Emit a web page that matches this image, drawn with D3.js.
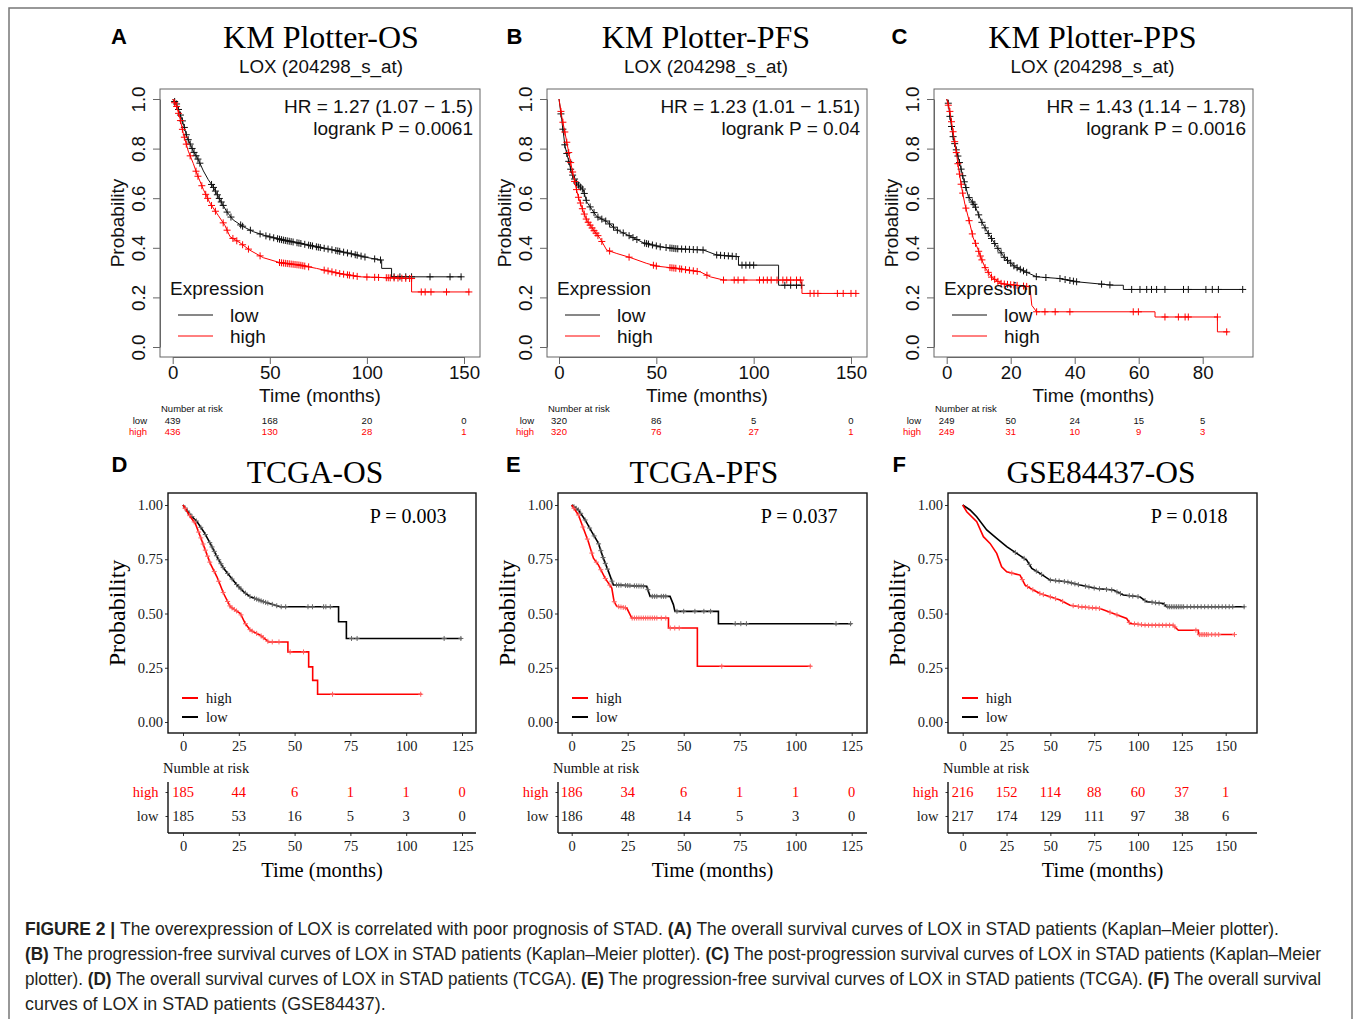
<!DOCTYPE html>
<html>
<head>
<meta charset="utf-8">
<script src="https://cdn.jsdelivr.net/npm/d3@7"></script>
<style>
  body { margin: 0; background: #fff; }
</style>
</head>
<body>
<div id="chart"></div>
<script>
// ---- data: [time (months), survival probability] ----

// A: KM Plotter OS
var osKmLow = [[0,1],[2,0.98],[3.8,0.94],[5.5,0.90],[7.2,0.85],[10.6,0.79],[13.2,0.755],[15.8,0.71],[18.3,0.675],[20.9,0.645],[24.4,0.593],[27.8,0.546],[31.2,0.512],[36.4,0.485],[41.5,0.465],[48.4,0.447],[57,0.431],[65.6,0.418],[74,0.404],[82.7,0.391],[91.3,0.377],[100,0.361],[107.6,0.35],[107.6,0.317],[112.7,0.317],[112.7,0.283],[148.8,0.283]];
var osKmHigh = [[0,1],[2,0.97],[3.8,0.92],[5.5,0.86],[8,0.79],[10.6,0.74],[12.4,0.70],[15.8,0.635],[19.2,0.58],[23.5,0.53],[26.9,0.49],[29.5,0.445],[34.7,0.42],[39.8,0.39],[46.7,0.36],[55.3,0.34],[65.6,0.33],[74,0.317],[86,0.296],[96.4,0.283],[123,0.276],[123,0.222],[153,0.222]];
var osKmLowCens = [1,2,3,4,5,6,7,8,9,10,11,12,13,14,20,21,22,23,24,25,26,28,30,35,36,40,45,48,50,52,54,55,56,57,58,59,60,61,62,64,65,66,68,70,71,72,74,75,76,78,80,82,84,85,86,88,90,92,94,95,97,99,104,107,114,117,120,123,132.5,142.8,148.5];
var osKmHighCens = [1,2,3,4,5,6,7,9,12,13,15,17,18,20,22,26,28,31,33,36,39,45,55,56,57,58,59,60,61,62,63,64,65,66,67,68,70,78,80,82,84,86,88,90,91,93,95,100,104,106,110,111,112,114,116,118,120,122,123,128,130,133,141,152.5];
var osKmRiskTimes = [0, 50, 100, 150];
var osKmRiskLow = [439, 168, 20, 0];
var osKmRiskHigh = [436, 130, 28, 1];

// B: KM Plotter PFS
var pfsKmLow = [[0,1],[1.4,0.916],[3.1,0.809],[4.8,0.755],[6.5,0.701],[9.1,0.66],[12.5,0.633],[14.2,0.586],[15.9,0.566],[19.4,0.526],[24.5,0.506],[29.7,0.472],[36.5,0.447],[43.4,0.42],[51.9,0.404],[60.5,0.396],[74.2,0.391],[81,0.371],[92.2,0.364],[92.2,0.33],[112.8,0.33],[112.8,0.249],[124.8,0.249]];
var pfsKmHigh = [[0,1],[1.4,0.93],[3.1,0.863],[5.7,0.755],[8.2,0.66],[9.9,0.606],[12.5,0.546],[14.2,0.512],[17.7,0.472],[21.1,0.438],[24.5,0.391],[29.7,0.377],[36.5,0.361],[45.1,0.337],[50.2,0.326],[60.5,0.317],[72.5,0.303],[77.7,0.283],[84.5,0.27],[124.8,0.27],[124.8,0.216],[153,0.216]];
var pfsKmLowCens = [1,2,3,4,5,6,7,8,9,10,11,12,13,14,16,18,20,22,24,26,28,30,33,36,38,40,44,45,46,48,50,52,55,57,58,59,60,61,63,65,67,69,71,74,81,83,85,87,89,91,94,96,98,100,116,119,122,124.5];
var pfsKmHighCens = [1,2,3,4,5,6,7,8,9,10,11,12,13,14,15,16,17,18,19,20,22,26,36,48.5,50,57,58,59,60,62,63,65,67,69,71,76,84.5,90,92,95,103,105,107,109,112,115,117,119,122,124,129,131,133,143,146,150,152.5];
var pfsKmRiskTimes = [0, 50, 100, 150];
var pfsKmRiskLow = [320, 86, 5, 0];
var pfsKmRiskHigh = [320, 76, 27, 1];

// C: KM Plotter PPS
var ppsKmLow = [[0,1],[0.5,0.983],[1,0.93],[2.1,0.84],[3.6,0.765],[5.2,0.68],[6.8,0.606],[8.8,0.57],[10.9,0.505],[13,0.458],[15.6,0.405],[18.2,0.358],[21.3,0.324],[24.5,0.304],[28.1,0.283],[35.4,0.276],[40.6,0.263],[52,0.249],[55.2,0.249],[55.2,0.232],[92.7,0.232]];
var ppsKmHigh = [[0,1],[1,0.95],[1.6,0.90],[2.6,0.82],[3.6,0.73],[4.7,0.64],[5.7,0.575],[6.8,0.52],[8.3,0.44],[9.9,0.39],[10.4,0.37],[12,0.32],[14.1,0.28],[17.2,0.255],[26,0.243],[26.6,0.168],[28.1,0.142],[65.1,0.142],[65.1,0.121],[84.6,0.121],[84.6,0.061],[88,0.061]];
var ppsKmLowCens = [0.5,1,1.5,2,2.5,3,3.5,4,4.5,5,5.5,6,7,8,8.5,9,10,11,12,13,14,15,16,17,18,19,20,21,22,23,24,25,28,31,35.4,37,38.5,39.6,40.6,48.4,51,57.8,60.4,62.5,64,65.6,68.2,74,75.5,81,83,84.9,92.5];
var ppsKmHighCens = [0.5,1,1.5,2,2.5,3,3.5,4,4.5,5,6,7,8,9,10,10.5,11,12,13,14,15,16,17,18,19,20,21,22,24,25,28.1,30.7,33.9,38.5,58.3,59.9,68.2,72.4,74.5,75.5,84.6,87.5];
var ppsKmRiskTimes = [0, 20, 40, 60, 80];
var ppsKmRiskLow = [249, 50, 24, 15, 5];
var ppsKmRiskHigh = [249, 31, 10, 9, 3];

// D: TCGA OS
var osTcgaHigh = [[0,1],[3.3,0.946],[5.5,0.915],[7.8,0.854],[10,0.792],[12.2,0.731],[15.2,0.669],[18.2,0.592],[21.2,0.531],[25.7,0.5],[27.9,0.454],[30.2,0.423],[34.6,0.4],[38.4,0.369],[47,0.369],[47,0.323],[56.3,0.323],[56.3,0.254],[58.1,0.254],[58.1,0.192],[60.3,0.192],[60.3,0.128],[107,0.128]];
var osTcgaLow = [[0,1],[3.3,0.954],[6.3,0.923],[9.3,0.877],[12.2,0.823],[15.2,0.762],[18.2,0.708],[21.2,0.669],[24.2,0.631],[27.2,0.6],[30.2,0.577],[36.1,0.554],[43.6,0.531],[69.7,0.531],[69.7,0.462],[73.2,0.462],[73.2,0.385],[125,0.385]];
var osTcgaHighCens = [1,3,5,7,8,9,10,11,12,14,16,18,20,21,22,23,24,26,28,30,31,33,35,36,38,40,43,48,54,67,106.5];
var osTcgaLowCens = [1,2,3,4,6,8,10,12,13,14,15,16,17,18,20,22,24,25,26,28,30,32,33,34,35,36,37,38,40,42,44,46,56,58,63,64,66,75.5,78,117,124.5];
var osTcgaRiskTimes = [0, 25, 50, 75, 100, 125];
var osTcgaRiskHigh = [185, 44, 6, 1, 1, 0];
var osTcgaRiskLow = [185, 53, 16, 5, 3, 0];

// E: TCGA PFS
var pfsTcgaHigh = [[0,1],[3,0.954],[5.2,0.893],[7.4,0.832],[9.7,0.755],[11.9,0.724],[14.9,0.663],[17.9,0.617],[18.9,0.556],[20.1,0.533],[24.6,0.525],[26.8,0.479],[43.2,0.479],[43.2,0.433],[56.1,0.433],[56.1,0.257],[107,0.257]];
var pfsTcgaLow = [[0,1],[3,0.977],[6,0.931],[8.9,0.877],[11.9,0.824],[14.1,0.755],[16.4,0.694],[18.6,0.632],[33.5,0.625],[35,0.579],[43.9,0.579],[45.4,0.541],[46.1,0.51],[65.5,0.51],[65.5,0.453],[125,0.453]];
var pfsTcgaHighCens = [1,3,5,7,9,11,13,15,17,19,21,22,23,24,27,28,29,30,31,32,33,34,35,36,37,38,40,42,44,46,48,67,106.5];
var pfsTcgaLowCens = [1,2,3,4,6,8,10,12,13,14,15,16,18,20,21,22,24,25,26,28,29,30,31,32,34,36,37,38,40,41,42,47,50,55,59,62,73,75.5,78,118,124.5];
var pfsTcgaRiskTimes = [0, 25, 50, 75, 100, 125];
var pfsTcgaRiskHigh = [186, 34, 6, 1, 1, 0];
var pfsTcgaRiskLow = [186, 48, 14, 5, 3, 0];

// F: GSE84437 OS
var osGseHigh = [[0,1],[2.3,0.969],[8,0.923],[11.8,0.854],[15.6,0.823],[19.4,0.777],[22.2,0.715],[25.1,0.692],[32.7,0.677],[35.6,0.631],[40.3,0.608],[44.1,0.592],[49.8,0.577],[55.5,0.562],[61.2,0.538],[66.9,0.531],[78.3,0.523],[85.9,0.5],[93.5,0.477],[95.4,0.454],[105,0.446],[120,0.446],[123,0.423],[134.4,0.423],[134.4,0.403],[155.3,0.403]];
var osGseLow = [[0,1],[4.2,0.977],[8,0.946],[13.7,0.885],[19.4,0.846],[25.1,0.808],[30.8,0.777],[36.5,0.746],[39.4,0.708],[44.1,0.685],[49.8,0.654],[59.3,0.646],[66.9,0.631],[76.4,0.615],[85.9,0.608],[91.6,0.585],[101,0.577],[105,0.554],[114.4,0.546],[116.3,0.531],[161,0.531]];
var osGseHighCens = [28,34,37,40,44,46,50,53,57,63,66,68,70,72,74,76,78,84,88,95,98,100,102,104,106,108,110,112,114,116,118,120,121,133,135,136,137,138,139,140,142,144,146,155];
var osGseLowCens = [30,35,38,42,45,50,53,55,58,60,62,64,66,70,72,75,78,82,85,88,90,95,97,100,104,108,110,112,115,117,118,119,120,121,122,123,124,125,126,128,130,132,134,136,138,140,142,144,146,148,150,152,154,160.5];
var osGseRiskTimes = [0, 25, 50, 75, 100, 125, 150];
var osGseRiskHigh = [216, 152, 114, 88, 60, 37, 1];
var osGseRiskLow = [217, 174, 129, 111, 97, 38, 6];

// ---- drawing ----
var SANS = '"Liberation Sans", Arial, Helvetica, sans-serif';
var SERIF = '"Liberation Serif", "Times New Roman", Times, serif';
var RED = '#ff0000';

var svg = d3.select('#chart').append('svg')
    .attr('width', 1355)
    .attr('height', 1019);

svg.append('rect')
    .attr('x', 9).attr('y', 8)
    .attr('width', 1343).attr('height', 1040)
    .attr('fill', 'none').attr('stroke', '#777').attr('stroke-width', 1.5);

// survival value on the drawn curve at time t (to sit the censor marks on the line)
function survAt(curve, t) {
  for (var i = 0; i < curve.length - 1; i++) {
    var a = curve[i], b = curve[i + 1];
    if (b[0] > a[0] && t >= a[0] && t <= b[0]) {
      return a[1] + (b[1] - a[1]) * (t - a[0]) / (b[0] - a[0]);
    }
  }
  return curve[curve.length - 1][1];
}

function drawCurve(g, x, y, curve, cens, color, width, arm, censColor) {
  var line = d3.line().x(d => x(d[0])).y(d => y(d[1]));
  g.append('path')
      .attr('d', line(curve))
      .attr('fill', 'none')
      .attr('stroke', color)
      .attr('stroke-width', width);
  g.append('g').selectAll('path')
      .data(cens)
      .enter().append('path')
      .attr('transform', t => 'translate(' + x(t) + ',' + y(survAt(curve, t)) + ')')
      .attr('d', 'M' + (-arm) + ',0H' + arm + 'M0,' + (-arm) + 'V' + arm)
      .attr('fill', 'none')
      .attr('stroke', censColor)
      .attr('stroke-width', 1);
}

var topPanels = [
  { letter: 'A', lx: 111, title: 'KM Plotter-OS', tx: 321,
    hr: 'HR = 1.27 (1.07 \u2212 1.5)', p: 'logrank P = 0.0061',
    low: osKmLow, high: osKmHigh, lowCens: osKmLowCens, highCens: osKmHighCens,
    riskT: osKmRiskTimes, riskLow: osKmRiskLow, riskHigh: osKmRiskHigh,
    tMax: 150, xTicks: [0, 50, 100, 150], bx0: 160, bx1: 480, px0: 172.7, px1: 464 },
  { letter: 'B', lx: 506.5, title: 'KM Plotter-PFS', tx: 706,
    hr: 'HR = 1.23 (1.01 \u2212 1.51)', p: 'logrank P = 0.04',
    low: pfsKmLow, high: pfsKmHigh, lowCens: pfsKmLowCens, highCens: pfsKmHighCens,
    riskT: pfsKmRiskTimes, riskLow: pfsKmRiskLow, riskHigh: pfsKmRiskHigh,
    tMax: 150, xTicks: [0, 50, 100, 150], bx0: 547, bx1: 867, px0: 559, px1: 851 },
  { letter: 'C', lx: 891.5, title: 'KM Plotter-PPS', tx: 1092.5,
    hr: 'HR = 1.43 (1.14 \u2212 1.78)', p: 'logrank P = 0.0016',
    low: ppsKmLow, high: ppsKmHigh, lowCens: ppsKmLowCens, highCens: ppsKmHighCens,
    riskT: ppsKmRiskTimes, riskLow: ppsKmRiskLow, riskHigh: ppsKmRiskHigh,
    tMax: 80, xTicks: [0, 20, 40, 60, 80], bx0: 934, bx1: 1253, px0: 946.7, px1: 1202.7 }
];

function drawTop(p) {
  var g = svg.append('g').attr('font-family', SANS).attr('fill', '#111');
  var x = d3.scaleLinear().domain([0, p.tMax]).range([p.px0, p.px1]);
  var y = d3.scaleLinear().domain([0, 1]).range([347, 99]);
  var cx = (p.bx0 + p.bx1) / 2;

  g.append('text').attr('x', p.lx).attr('y', 44)
      .attr('font-size', 22).attr('font-weight', 'bold').attr('fill', '#000').text(p.letter);
  g.append('text').attr('x', p.tx).attr('y', 48).attr('text-anchor', 'middle')
      .attr('font-family', SERIF).attr('font-size', 32).attr('fill', '#000').text(p.title);
  g.append('text').attr('x', p.tx).attr('y', 73).attr('text-anchor', 'middle')
      .attr('font-size', 18.8).text('LOX (204298_s_at)');

  var xAxis = g.append('g')
      .attr('transform', 'translate(0,357)')
      .call(d3.axisBottom(x).tickValues(p.xTicks).tickSize(7).tickSizeOuter(0).tickPadding(1.5));
  var yAxis = g.append('g')
      .attr('transform', 'translate(' + p.bx0 + ',0)')
      .call(d3.axisLeft(y).tickValues([0, 0.2, 0.4, 0.6, 0.8, 1]).tickFormat(d3.format('.1f'))
        .tickSize(7).tickSizeOuter(0));
  [xAxis, yAxis].forEach(function (a) {
    a.attr('font-size', 18.7).attr('font-family', SANS);
    a.select('.domain').attr('stroke', '#666');
    a.selectAll('.tick line').attr('stroke', '#666');
    a.selectAll('.tick text').attr('fill', '#111');
  });
  yAxis.selectAll('.tick text')
      .attr('x', 0).attr('dy', 0)
      .attr('text-anchor', 'middle')
      .attr('transform', 'translate(-15,0) rotate(-90)');

  g.append('rect')
      .attr('x', p.bx0).attr('y', 89)
      .attr('width', p.bx1 - p.bx0).attr('height', 268)
      .attr('fill', 'none').attr('stroke', '#666').attr('stroke-width', 1);

  drawCurve(g, x, y, p.low, p.lowCens, '#111', 1, 3.5, '#111');
  drawCurve(g, x, y, p.high, p.highCens, RED, 1, 3.5, RED);

  g.append('text').attr('x', p.bx1 - 7).attr('y', 112.5).attr('text-anchor', 'end')
      .attr('font-size', 19).text(p.hr);
  g.append('text').attr('x', p.bx1 - 7).attr('y', 135).attr('text-anchor', 'end')
      .attr('font-size', 19).text(p.p);

  // legend
  g.append('text').attr('x', p.bx0 + 10).attr('y', 295).attr('font-size', 19).text('Expression');
  [['low', '#111', 315], ['high', RED, 336]].forEach(function (l) {
    g.append('line').attr('x1', p.bx0 + 18).attr('x2', p.bx0 + 53)
        .attr('y1', l[2]).attr('y2', l[2]).attr('stroke', l[1]).attr('stroke-width', 1);
    g.append('text').attr('x', p.bx0 + 70).attr('y', l[2] + 7)
        .attr('font-size', 19).text(l[0]);
  });

  g.append('text').attr('x', cx).attr('y', 401.5).attr('text-anchor', 'middle')
      .attr('font-size', 19).text('Time (months)');
  g.append('text')
      .attr('transform', 'translate(' + (p.bx0 - 36.5) + ',223) rotate(-90)')
      .attr('text-anchor', 'middle').attr('font-size', 19).text('Probability');

  // number at risk
  g.append('text').attr('x', p.bx0 + 1).attr('y', 411.5).attr('font-size', 9.5).text('Number at risk');
  [['low', p.riskLow, '#111', 423.5], ['high', p.riskHigh, RED, 435.3]].forEach(function (r) {
    g.append('text').attr('x', p.bx0 - 13).attr('y', r[3]).attr('text-anchor', 'end')
        .attr('font-size', 9.5).attr('fill', r[2]).text(r[0]);
    g.append('g').selectAll('text')
        .data(p.riskT)
        .enter().append('text')
        .attr('x', d => x(d)).attr('y', r[3])
        .attr('text-anchor', 'middle').attr('font-size', 9.5).attr('fill', r[2])
        .text((d, i) => r[1][i]);
  });
}

var bottomPanels = [
  { letter: 'D', lx: 111.5, title: 'TCGA-OS', tx: 315, p: 'P = 0.003',
    high: osTcgaHigh, low: osTcgaLow, highCens: osTcgaHighCens, lowCens: osTcgaLowCens,
    riskT: osTcgaRiskTimes, riskHigh: osTcgaRiskHigh, riskLow: osTcgaRiskLow,
    tMax: 125, xTicks: [0, 25, 50, 75, 100, 125], bx0: 168, bx1: 476, px0: 183, px1: 462 },
  { letter: 'E', lx: 506, title: 'TCGA-PFS', tx: 704, p: 'P = 0.037',
    high: pfsTcgaHigh, low: pfsTcgaLow, highCens: pfsTcgaHighCens, lowCens: pfsTcgaLowCens,
    riskT: pfsTcgaRiskTimes, riskHigh: pfsTcgaRiskHigh, riskLow: pfsTcgaRiskLow,
    tMax: 125, xTicks: [0, 25, 50, 75, 100, 125], bx0: 558, bx1: 867, px0: 571.7, px1: 851.7 },
  { letter: 'F', lx: 892.5, title: 'GSE84437-OS', tx: 1101, p: 'P = 0.018',
    high: osGseHigh, low: osGseLow, highCens: osGseHighCens, lowCens: osGseLowCens,
    riskT: osGseRiskTimes, riskHigh: osGseRiskHigh, riskLow: osGseRiskLow,
    tMax: 150, xTicks: [0, 25, 50, 75, 100, 125, 150], bx0: 948, bx1: 1257, px0: 962.7, px1: 1225.7 }
];

function drawBottom(p) {
  var g = svg.append('g').attr('font-family', SERIF).attr('fill', '#111');
  var x = d3.scaleLinear().domain([0, p.tMax]).range([p.px0, p.px1]);
  var y = d3.scaleLinear().domain([0, 1]).range([722, 505]);
  var cx = (p.bx0 + p.bx1) / 2;

  g.append('text').attr('x', p.lx).attr('y', 472)
      .attr('font-family', SANS).attr('font-size', 22).attr('font-weight', 'bold')
      .attr('fill', '#000').text(p.letter);
  g.append('text').attr('x', p.tx).attr('y', 483).attr('text-anchor', 'middle')
      .attr('font-size', 31.5).attr('fill', '#000').text(p.title);

  var xAxis = g.append('g')
      .attr('transform', 'translate(0,733)')
      .call(d3.axisBottom(x).tickValues(p.xTicks).tickSize(3).tickSizeOuter(0).tickPadding(4.5));
  var yAxis = g.append('g')
      .attr('transform', 'translate(' + p.bx0 + ',0)')
      .call(d3.axisLeft(y).tickValues([0, 0.25, 0.5, 0.75, 1]).tickFormat(d3.format('.2f'))
        .tickSize(3).tickSizeOuter(0).tickPadding(2));
  [xAxis, yAxis].forEach(function (a) {
    a.attr('font-size', 14.5).attr('font-family', SERIF);
    a.select('.domain').remove();
    a.selectAll('.tick line').attr('stroke', '#333');
    a.selectAll('.tick text').attr('fill', '#1a1a1a');
  });

  g.append('rect')
      .attr('x', p.bx0).attr('y', 493)
      .attr('width', p.bx1 - p.bx0).attr('height', 240)
      .attr('fill', 'none').attr('stroke', '#111').attr('stroke-width', 1.4);

  drawCurve(g, x, y, p.low, p.lowCens, '#000', 1.6, 2.5, '#666');
  drawCurve(g, x, y, p.high, p.highCens, RED, 1.6, 2.5, '#ff6060');

  g.append('text').attr('x', p.bx1 - 29.5).attr('y', 523).attr('text-anchor', 'end')
      .attr('font-size', 20).attr('fill', '#000').text(p.p);

  // legend
  [['high', RED, 698], ['low', '#000', 717]].forEach(function (l) {
    g.append('line').attr('x1', p.bx0 + 14).attr('x2', p.bx0 + 30)
        .attr('y1', l[2]).attr('y2', l[2]).attr('stroke', l[1]).attr('stroke-width', 2);
    g.append('text').attr('x', p.bx0 + 38).attr('y', l[2] + 4.5)
        .attr('font-size', 14.5).text(l[0]);
  });

  g.append('text')
      .attr('transform', 'translate(' + (p.bx0 - 43.5) + ',613) rotate(-90)')
      .attr('text-anchor', 'middle').attr('font-size', 24).attr('fill', '#000').text('Probability');

  // risk table
  g.append('text').attr('x', p.bx0 - 5).attr('y', 772.5).attr('font-size', 14.5).text('Numble at risk');
  var rows = d3.scalePoint().domain(['high', 'low']).range([792, 816]);
  var rowAxis = g.append('g')
      .attr('transform', 'translate(' + p.bx0 + ',0)')
      .call(d3.axisLeft(rows).tickSize(2.5).tickSizeOuter(0).tickPadding(7));
  rowAxis.attr('font-size', 14.5).attr('font-family', SERIF);
  rowAxis.select('.domain').remove();
  rowAxis.selectAll('.tick line').attr('stroke', '#333');
  rowAxis.selectAll('.tick text').attr('fill', d => d === 'high' ? RED : '#1a1a1a');
  g.append('line').attr('x1', p.bx0).attr('x2', p.bx0).attr('y1', 782).attr('y2', 833)
      .attr('stroke', '#111').attr('stroke-width', 1.4);

  [['high', p.riskHigh, RED], ['low', p.riskLow, '#1a1a1a']].forEach(function (r) {
    g.append('g').selectAll('text')
        .data(p.riskT)
        .enter().append('text')
        .attr('x', d => x(d)).attr('y', rows(r[0]) + 5)
        .attr('text-anchor', 'middle').attr('font-size', 14.5).attr('fill', r[2])
        .text((d, i) => r[1][i]);
  });

  var tAxis = g.append('g')
      .attr('transform', 'translate(0,833)')
      .call(d3.axisBottom(x).tickValues(p.xTicks).tickSize(3).tickSizeOuter(0).tickPadding(4.5));
  tAxis.attr('font-size', 14.5).attr('font-family', SERIF);
  tAxis.select('.domain').remove();
  tAxis.selectAll('.tick line').attr('stroke', '#333');
  tAxis.selectAll('.tick text').attr('fill', '#1a1a1a');
  g.append('line').attr('x1', p.bx0).attr('x2', p.bx1).attr('y1', 833).attr('y2', 833)
      .attr('stroke', '#111').attr('stroke-width', 1.4);

  g.append('text').attr('x', cx).attr('y', 877).attr('text-anchor', 'middle')
      .attr('font-size', 20.5).attr('fill', '#000').text('Time (months)');
}

topPanels.forEach(drawTop);
bottomPanels.forEach(drawBottom);

// caption: condensed look made by squeezing Liberation Sans horizontally to the measured line widths
var captionLines = [
  { y: 934.5, len: 1255, parts: [['FIGURE 2 | ', true], ['The overexpression of LOX is correlated with poor prognosis of STAD. ', false], ['(A)', true], [' The overall survival curves of LOX in STAD patients (Kaplan\u2013Meier plotter).', false]] },
  { y: 959.5, len: 1297, parts: [['(B)', true], [' The progression-free survival curves of LOX in STAD patients (Kaplan\u2013Meier plotter). ', false], ['(C)', true], [' The post-progression survival curves of LOX in STAD patients (Kaplan\u2013Meier', false]] },
  { y: 984.5, len: 1297, parts: [['plotter). ', false], ['(D)', true], [' The overall survival curves of LOX in STAD patients (TCGA). ', false], ['(E)', true], [' The progression-free survival curves of LOX in STAD patients (TCGA). ', false], ['(F)', true], [' The overall survival', false]] },
  { y: 1009.5, len: 361, parts: [['curves of LOX in STAD patients (GSE84437).', false]] }
];
captionLines.forEach(function (c) {
  var t = svg.append('text')
      .attr('x', 0).attr('y', 0)
      .attr('font-family', SANS)
      .attr('font-size', 18).attr('fill', '#231f20');
  c.parts.forEach(function (pt) {
    t.append('tspan').attr('font-weight', pt[1] ? 'bold' : 'normal').text(pt[0]);
  });
  var k = c.len / t.node().getComputedTextLength();
  t.attr('transform', 'translate(25,' + c.y + ') scale(' + k + ',1)');
});
</script>
</body>
</html>
